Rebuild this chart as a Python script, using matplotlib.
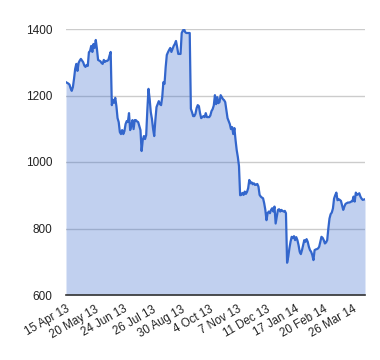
import matplotlib
matplotlib.use("Agg")
import matplotlib.pyplot as plt
import numpy as np

plt.rcParams['font.family'] = ['Liberation Sans', 'DejaVu Sans']

# Daily closing values (trading days)
values = [
    1240, 1238, 1236, 1233, 1222, 1214, 1225, 1250, 1280, 1295,
    1274, 1298, 1305, 1310, 1305, 1300, 1290, 1286, 1292, 1289,
    1330, 1334, 1349, 1331, 1355, 1343, 1367, 1340, 1307, 1305,
    1303, 1298, 1295, 1307, 1301, 1304, 1304, 1307, 1320, 1331,
    1171, 1187, 1178, 1193, 1168, 1132, 1120, 1090, 1084, 1096,
    1084, 1093, 1114, 1123, 1120, 1147, 1096, 1108, 1126, 1099,
    1126, 1126, 1122, 1120, 1108, 1096, 1033, 1066, 1078, 1069,
    1081, 1156, 1220, 1190, 1150, 1130, 1100, 1078, 1126, 1165,
    1174, 1183, 1174, 1171, 1195, 1240, 1235, 1285, 1322, 1330,
    1337, 1343, 1331, 1340, 1349, 1355, 1364, 1346, 1325, 1325,
    1325, 1388, 1395, 1400, 1391, 1388, 1388, 1388, 1388, 1160,
    1150, 1138, 1138, 1145, 1162, 1171, 1168, 1147, 1132, 1135,
    1138, 1135, 1147, 1135, 1135, 1135, 1140, 1153, 1159, 1170,
    1201, 1174, 1195, 1177, 1180, 1201, 1195, 1189, 1186, 1180,
    1156, 1132, 1123, 1114, 1099, 1105, 1084, 1102, 1066, 1036,
    1015, 988, 900, 901, 907, 901, 911, 904, 910, 921,
    946, 936, 939, 933, 936, 931, 932, 934, 926, 901,
    896, 893, 891, 876, 856, 825, 846, 851, 846, 856,
    861, 851, 866, 815, 836, 856, 858, 851, 856, 853,
    851, 853, 846, 697, 715, 740, 760, 775, 771, 777,
    765, 774, 765, 750, 730, 723, 735, 750, 765, 760,
    768, 760, 745, 735, 730, 720, 705, 735, 737, 738,
    740, 745, 760, 775, 772, 765, 755, 758, 765, 800,
    830, 843, 848, 860, 890, 900, 908, 885, 888, 886,
    883, 870, 856, 866, 874, 876, 878, 878, 879, 881,
    882, 896, 881, 908, 901, 903, 906, 896, 890, 886,
    887, 888,
]

tick_labels = ["15 Apr 13", "20 May 13", "24 Jun 13", "26 Jul 13", "30 Aug 13",
               "4 Oct 13", "7 Nov 13", "11 Dec 13", "17 Jan 14", "20 Feb 14",
               "26 Mar 14"]
tick_step = 25
y_ticks = [600, 800, 1000, 1200, 1400]

fig = plt.figure(figsize=(3.8, 3.6), dpi=100)
ax = fig.add_axes([66/380, 1-295/360, (365-66)/380, (295-29)/360])

x = np.arange(len(values))
color = "#3366cc"
ax.fill_between(x, 600, values, color=color, alpha=0.30, linewidth=0)
ax.plot(x, values, color=color, linewidth=1.6, solid_joinstyle='round')

ax.set_xlim(0, len(values) - 1)
ax.set_ylim(600, 1400)
ax.set_yticks(y_ticks)
ax.set_yticklabels([str(v) for v in y_ticks])
ax.yaxis.grid(True, color="#cccccc", linewidth=1)
ax.set_axisbelow(True)

ticks = [i * tick_step for i in range(len(tick_labels))]
ax.set_xticks(ticks)
ax.set_xticklabels(tick_labels, rotation=30, ha='right', va='top',
                   rotation_mode='anchor', fontsize=8.3)

for s in ['left', 'right', 'top']:
    ax.spines[s].set_visible(False)
ax.spines['bottom'].set_color('#333333')
ax.spines['bottom'].set_linewidth(1.2)
ax.tick_params(axis='both', length=0, colors='#222222')
ax.tick_params(axis='y', pad=10, labelsize=8.5)
ax.tick_params(axis='x', pad=6)

fig.savefig("out.png", dpi=100)
